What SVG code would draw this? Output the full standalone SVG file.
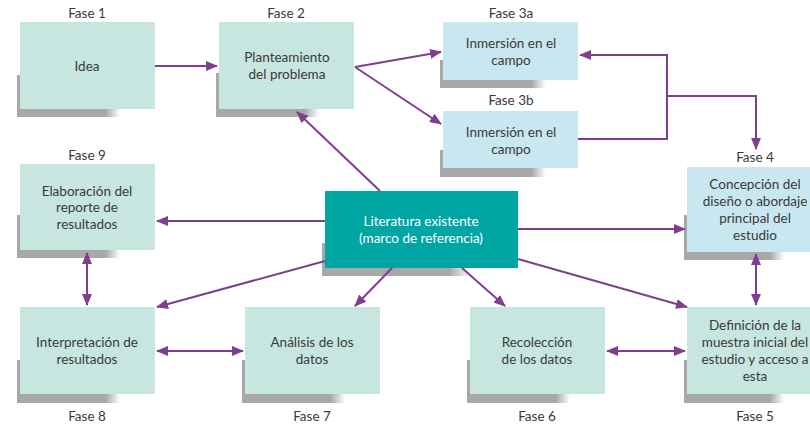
<svg xmlns="http://www.w3.org/2000/svg" width="810" height="426" viewBox="0 0 810 426">
<style>
.box{fill:#c7e6e0}
.blue{fill:#c9e7f0}
.lit{fill:#00a6a3}
.sh{fill:url(#shg)}
text{font-family:Lato,"Open Sans","Liberation Sans",sans-serif;font-size:13.5px;fill:#3a3a3a;text-anchor:middle}
.w{fill:#ffffff}
.c{fill:none;stroke:#7e3f8f;stroke-width:2}
</style>
<defs>
<linearGradient id="shg" x1="0" y1="0" x2="1" y2="0">
<stop offset="0" stop-color="#a8a8a8"/>
<stop offset="0.86" stop-color="#a8a8a8"/>
<stop offset="1" stop-color="#a8a8a8" stop-opacity="0"/>
</linearGradient>
<marker id="a" markerUnits="userSpaceOnUse" markerWidth="12" markerHeight="10" refX="11" refY="5" orient="auto-start-reverse">
<path d="M0,0 L12,5 L0,10 Z" fill="#7e3f8f"/>
</marker>
</defs>

<g id="n1">
<rect class="sh" x="17" y="75" width="103" height="42"/>
<rect class="box" x="20" y="22" width="135" height="87"/>
<text x="87" y="18">Fase 1</text>
<text x="87" y="71">Idea</text>
</g>
<g id="n2">
<rect class="sh" x="216" y="73" width="103" height="44"/>
<rect class="box" x="219" y="22" width="135" height="87"/>
<text x="286" y="18">Fase 2</text>
<text x="287" y="62">Planteamiento</text>
<text x="287" y="79">del problema</text>
</g>
<g id="n3a">
<rect class="sh" x="440" y="60" width="106" height="28"/>
<rect class="blue" x="443" y="22" width="135" height="58"/>
<text x="511" y="18">Fase 3a</text>
<text x="511" y="48">Inmersión en el</text>
<text x="511" y="65">campo</text>
</g>
<g id="n3b">
<rect class="sh" x="440" y="150" width="106" height="27"/>
<rect class="blue" x="443" y="111" width="135" height="57"/>
<text x="511" y="105">Fase 3b</text>
<text x="511" y="137">Inmersión en el</text>
<text x="511" y="154">campo</text>
</g>
<g id="n4">
<rect class="sh" x="684" y="215" width="100" height="45"/>
<rect class="blue" x="687" y="167" width="136" height="85"/>
<text x="755" y="162">Fase 4</text>
<text x="755" y="189">Concepción del</text>
<text x="755" y="206">diseño o abordaje</text>
<text x="755" y="223">principal del</text>
<text x="755" y="240">estudio</text>
</g>
<g id="lit">
<rect class="sh" x="322" y="243" width="148" height="33"/>
<rect class="lit" x="325" y="191" width="193" height="77"/>
<text class="w" x="421" y="226">Literatura existente</text>
<text class="w" x="421" y="243">(marco de referencia)</text>
</g>
<g id="n9">
<rect class="sh" x="17" y="215" width="103" height="43"/>
<rect class="box" x="20" y="164" width="135" height="86"/>
<text x="87" y="160">Fase 9</text>
<text x="87" y="196">Elaboración del</text>
<text x="87" y="212">reporte de</text>
<text x="87" y="229">resultados</text>
</g>
<g id="n8">
<rect class="sh" x="17" y="360" width="103" height="43"/>
<rect class="box" x="20" y="307" width="135" height="87"/>
<text x="87" y="347">Interpretación de</text>
<text x="87" y="364">resultados</text>
<text x="87" y="421">Fase 8</text>
</g>
<g id="n7">
<rect class="sh" x="242" y="360" width="103" height="43"/>
<rect class="box" x="245" y="307" width="135" height="87"/>
<text x="312" y="347">Análisis de los</text>
<text x="312" y="364">datos</text>
<text x="312" y="421">Fase 7</text>
</g>
<g id="n6">
<rect class="sh" x="467" y="360" width="103" height="43"/>
<rect class="box" x="470" y="307" width="135" height="87"/>
<text x="537" y="347">Recolección</text>
<text x="537" y="364">de los datos</text>
<text x="537" y="421">Fase 6</text>
</g>
<g id="n5">
<rect class="sh" x="684" y="360" width="100" height="43"/>
<rect class="box" x="687" y="307" width="136" height="87"/>
<text x="755" y="330">Definición de la</text>
<text x="755" y="347">muestra inicial del</text>
<text x="755" y="364">estudio y acceso a</text>
<text x="755" y="381">esta</text>
<text x="755" y="421">Fase 5</text>
</g>

<g id="connectors">
<line class="c" x1="155" y1="66" x2="217" y2="66" marker-end="url(#a)"/>
<line class="c" x1="355" y1="67" x2="441" y2="52" marker-end="url(#a)"/>
<line class="c" x1="355" y1="67" x2="441" y2="124" marker-end="url(#a)"/>
<polyline class="c" points="578,139 667,139 667,55 580,55" marker-end="url(#a)"/>
<polyline class="c" points="667,96 756,96 756,149" marker-end="url(#a)"/>
<line class="c" x1="380" y1="191" x2="297" y2="112" marker-end="url(#a)"/>
<line class="c" x1="325" y1="221" x2="157" y2="221" marker-end="url(#a)"/>
<line class="c" x1="518" y1="229" x2="685" y2="229" marker-end="url(#a)"/>
<line class="c" x1="325" y1="261" x2="157" y2="307" marker-end="url(#a)"/>
<line class="c" x1="392" y1="268" x2="355" y2="306" marker-end="url(#a)"/>
<line class="c" x1="462" y1="268" x2="505" y2="306" marker-end="url(#a)"/>
<line class="c" x1="518" y1="259" x2="687" y2="307" marker-end="url(#a)"/>
<line class="c" x1="87" y1="253" x2="87" y2="305" marker-start="url(#a)" marker-end="url(#a)"/>
<line class="c" x1="157" y1="351" x2="243" y2="351" marker-start="url(#a)" marker-end="url(#a)"/>
<line class="c" x1="607" y1="351" x2="685" y2="351" marker-start="url(#a)" marker-end="url(#a)"/>
<line class="c" x1="756" y1="254" x2="756" y2="305" marker-start="url(#a)" marker-end="url(#a)"/>
</g>
</svg>
